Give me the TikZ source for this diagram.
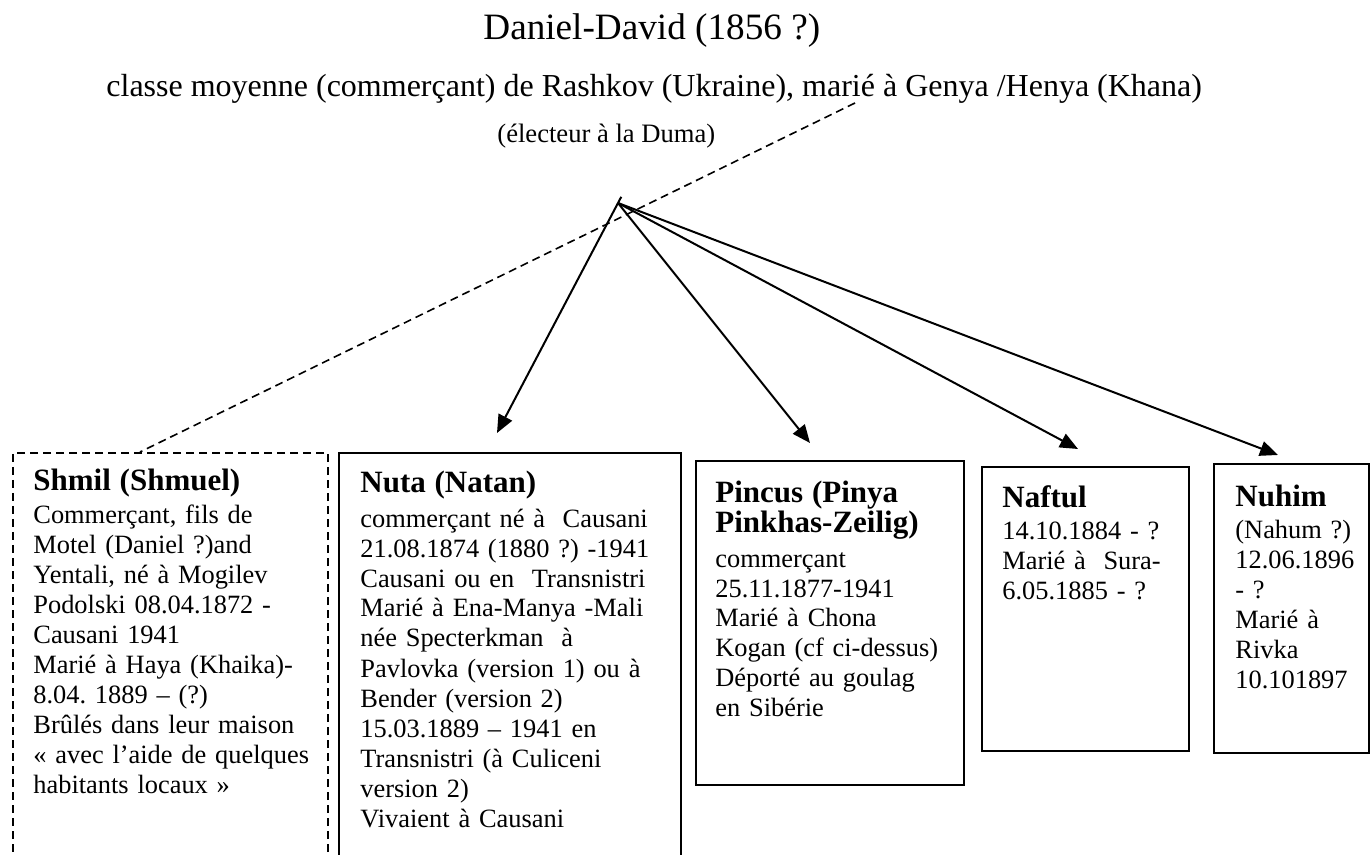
\documentclass[tikz,border=0pt]{standalone}
\usepackage{fontspec}
\setmainfont{Liberation Serif}
\usepackage{tikz}
\usetikzlibrary{arrows.meta,calc}
\frenchspacing
\newcommand{\nom}[1]{{\bfseries\fontsize{15.5pt}{15pt}\selectfont #1}}

\begin{document}
\begin{tikzpicture}[x=0.5pt,y=-0.5pt]
% Node styles ---
\tikzstyle{box} = [rectangle, line width = 1pt, draw = black, anchor = north west, inner sep = 0pt] % Children
\tikzstyle{dbox} = [box, dash pattern = on 4pt off 2.5pt] % Doubtful child
\tikzstyle{txt} = [anchor = base west, inner sep = 0pt, align = left, text width = 170pt, font = \fontsize{13.2pt}{15pt}\selectfont] % Box texts
\tikzstyle{ttl} = [anchor = base west, inner sep = 0pt] % Header lines
% Edge styles
\tikzstyle{con} = [-{Triangle[length = 9pt, width = 7.5pt]}, line width = 1pt] % Descent
\tikzstyle{link} = [line width = 0.8pt, dash pattern = on 4pt off 2.5pt] % Doubtful descent
% Begin Figure ---
\useasboundingbox (0,0) rectangle (1370,855);
% Header
\node at (483,40) [ttl, font = \fontsize{18.6pt}{20pt}\selectfont] (title) {Daniel-David (1856 ?)};
\node at (106,97) [ttl, font = \fontsize{16pt}{18pt}\selectfont] (sub) {classe moyenne (commerçant) de Rashkov (Ukraine), marié à Genya /Henya (Khana)};
\node at (497,143) [ttl, font = \fontsize{13.3pt}{15pt}\selectfont] (duma) {(électeur à la Duma)};
% Boxes
\node at (12,452) [dbox, minimum width = 157.5pt, minimum height = 224pt] (shmil) {};
\node at (338,452) [box, minimum width = 171pt, minimum height = 224pt] (nuta) {};
\node at (695,460) [box, minimum width = 134pt, minimum height = 162pt] (pincus) {};
\node at (981,466) [box, minimum width = 103.5pt, minimum height = 142pt] (naftul) {};
\node at (1213,463) [box, minimum width = 77.5pt, minimum height = 144.5pt] (nuhim) {};
% Texts
\node at ($(shmil.north west)+(21,38)$) [txt] (shmiltxt) {\nom{Shmil (Shmuel)}\\[1.5pt]
Commerçant, fils de\\ Motel (Daniel ?)and\\ Yentali, né à Mogilev\\ Podolski 08.04.1872 -\\ Causani 1941\\
Marié à Haya (Khaika)-\\ 8.04. 1889 – (?)\\ Brûlés dans leur maison\\ « avec l’aide de quelques\\ habitants locaux »};
\node at ($(nuta.north west)+(22,40)$) [txt] (nutatxt) {\nom{Nuta (Natan)}\\[2.5pt]
commerçant né à\ \ Causani\\ 21.08.1874 (1880 ?) -1941\\ Causani ou en\ \ Transnistri\\ Marié à Ena-Manya -Mali\\
née Specterkman\ \ à\\ Pavlovka (version 1) ou à\\ Bender (version 2)\\ 15.03.1889 – 1941 en\\
Transnistri (à Culiceni\\ version 2)\\ Vivaient à Causani};
\node at ($(pincus.north west)+(20,42)$) [txt] (pincustxt) {\nom{Pincus (Pinya}\\ \nom{Pinkhas-Zeilig)}\\[2.5pt]
commerçant\\ 25.11.1877-1941\\ Marié à Chona\\ Kogan (cf ci-dessus)\\ Déporté au goulag\\ en Sibérie};
\node at ($(naftul.north west)+(21,41)$) [txt] (naftultxt) {\nom{Naftul}\\[1pt]
14.10.1884 - ?\\ Marié à\ \ Sura-\\ 6.05.1885 - ?};
\node at ($(nuhim.north west)+(22,43)$) [txt] (nuhimtxt) {\nom{Nuhim}\\[1pt]
(Nahum ?)\\ 12.06.1896\\ - ?\\ Marié à\\ Rivka\\ 10.101897};
% Points
\coordinate (hub) at (618,203);
\coordinate (mar) at (855,103);
\coordinate (nutaend) at (497,433);
\coordinate (pincusend) at (810,443);
\coordinate (naftulend) at (1078,449);
\coordinate (nuhimend) at (1278,455);
% Paths
\draw [link] (mar) -- ($(shmil.north west)+(128,0)$);
\draw [con] ($(hub)!-3.5pt!(nutaend)$) -- (nutaend);
\draw [con] (hub) -- (pincusend);
\draw [con] (hub) -- (naftulend);
\draw [con] (hub) -- (nuhimend);
\end{tikzpicture}
\end{document}
